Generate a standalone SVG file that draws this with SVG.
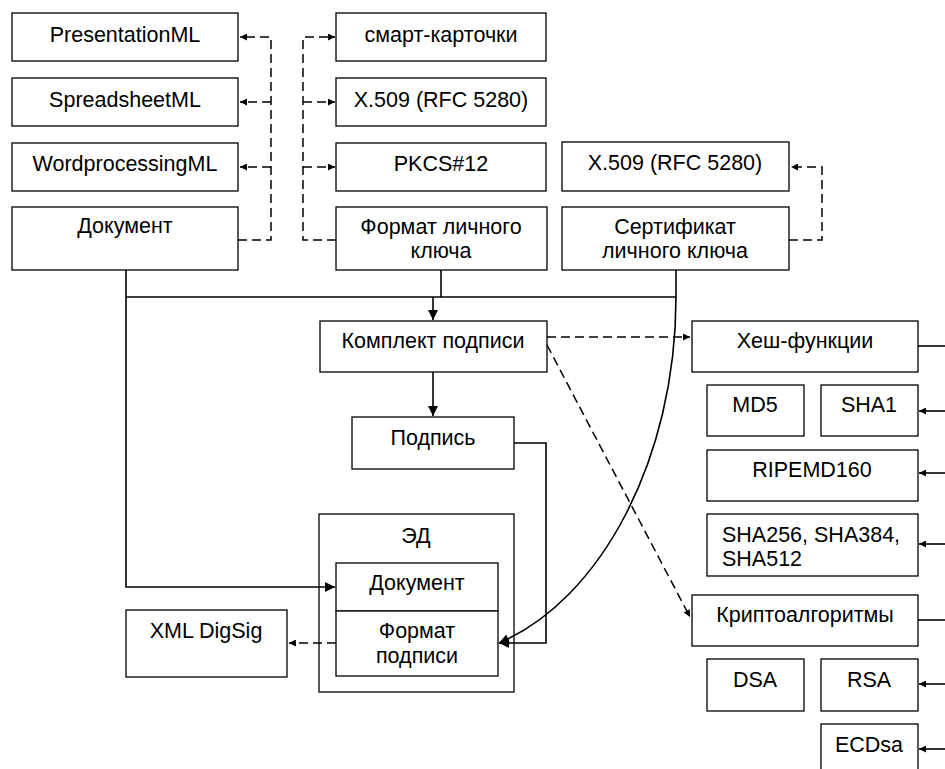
<svg xmlns="http://www.w3.org/2000/svg" width="945" height="769" viewBox="0 0 945 769">
<style>
.b{fill:#fff;stroke:#000;stroke-width:1.3}
.t{font-family:"Liberation Sans",Arial,sans-serif;font-size:21.5px;fill:#000;text-anchor:middle}
.c{fill:none;stroke:#000;stroke-width:1.6}
.d{fill:none;stroke:#000;stroke-width:1.5;stroke-dasharray:9 5}
</style>
<defs>
<marker id="a" viewBox="0 0 10 10" refX="10" refY="5" markerWidth="11" markerHeight="10" orient="auto" markerUnits="userSpaceOnUse"><path d="M0,0L10,5L0,10z"/></marker>
<marker id="s" viewBox="0 0 10 10" refX="10" refY="5" markerWidth="10" markerHeight="7" orient="auto" markerUnits="userSpaceOnUse"><path d="M0,0L10,5L0,10z"/></marker>
</defs>
<rect width="945" height="769" fill="#fff"/>
<g id="presentationml"><rect class="b" x="12" y="13" width="226" height="48"/><text class="t" x="125" y="42">PresentationML</text></g>
<g id="spreadsheetml"><rect class="b" x="12" y="78" width="226" height="48"/><text class="t" x="125" y="107">SpreadsheetML</text></g>
<g id="wordprocessingml"><rect class="b" x="12" y="143" width="226" height="48"/><text class="t" x="125" y="171">WordprocessingML</text></g>
<g id="dokument"><rect class="b" x="12" y="207" width="226" height="63"/><text class="t" x="125" y="233">Документ</text></g>
<g id="smart"><rect class="b" x="336" y="13" width="210" height="48"/><text class="t" x="441" y="42">смарт-карточки</text></g>
<g id="x509a"><rect class="b" x="336" y="78" width="210" height="48"/><text class="t" x="441" y="107">X.509 (RFC 5280)</text></g>
<g id="pkcs12"><rect class="b" x="336" y="143" width="210" height="48"/><text class="t" x="441" y="171">PKCS#12</text></g>
<g id="format-key"><rect class="b" x="336" y="207" width="211" height="63"/><text class="t" x="441" y="234">Формат личного</text><text class="t" x="441" y="258">ключа</text></g>
<g id="x509b"><rect class="b" x="562" y="142" width="227" height="49"/><text class="t" x="675" y="170">X.509 (RFC 5280)</text></g>
<g id="cert"><rect class="b" x="562" y="207" width="227" height="63"/><text class="t" x="675" y="234">Сертификат</text><text class="t" x="675" y="258">личного ключа</text></g>
<g id="komplekt"><rect class="b" x="320" y="321" width="227" height="51"/><text class="t" x="433" y="348">Комплект подписи</text></g>
<g id="podpis"><rect class="b" x="352" y="417" width="162" height="52"/><text class="t" x="433" y="445">Подпись</text></g>
<g id="ed"><rect class="b" x="319" y="514" width="195" height="178"/><text class="t" x="416" y="543">ЭД</text>
<rect class="b" x="336" y="563" width="162" height="48"/><text class="t" x="417" y="590">Документ</text>
<rect class="b" x="336" y="611" width="162" height="65"/><text class="t" x="417" y="638">Формат</text><text class="t" x="417" y="663">подписи</text></g>
<g id="xmldigsig"><rect class="b" x="126" y="610" width="161" height="67"/><text class="t" x="206" y="638">XML DigSig</text></g>
<g id="hash"><rect class="b" x="692" y="321" width="226" height="51"/><text class="t" x="805" y="348">Хеш-функции</text></g>
<g id="md5"><rect class="b" x="707" y="385" width="97" height="51"/><text class="t" x="755" y="412">MD5</text></g>
<g id="sha1"><rect class="b" x="821" y="385" width="97" height="51"/><text class="t" x="869" y="412">SHA1</text></g>
<g id="ripemd"><rect class="b" x="707" y="450" width="211" height="51"/><text class="t" x="812" y="477">RIPEMD160</text></g>
<g id="sha2"><rect class="b" x="707" y="514" width="211" height="62"/><text class="t" x="722" y="542" style="text-anchor:start">SHA256, SHA384,</text><text class="t" x="722" y="566" style="text-anchor:start">SHA512</text></g>
<g id="crypto"><rect class="b" x="692" y="595" width="226" height="51"/><text class="t" x="805" y="622">Криптоалгоритмы</text></g>
<g id="dsa"><rect class="b" x="707" y="659" width="97" height="52"/><text class="t" x="755" y="687">DSA</text></g>
<g id="rsa"><rect class="b" x="821" y="659" width="97" height="52"/><text class="t" x="869" y="687">RSA</text></g>
<g id="ecdsa"><rect class="b" x="821" y="724" width="97" height="60"/><text class="t" x="869" y="752">ECDsa</text></g>
<g id="connectors">
<path class="d" d="M238,240H271V37H240" marker-end="url(#s)"/>
<path class="d" d="M271,102H240" marker-end="url(#s)"/>
<path class="d" d="M271,167H240" marker-end="url(#s)"/>
<path class="d" d="M336,240H303V37H335" marker-end="url(#s)"/>
<path class="d" d="M303,102H335" marker-end="url(#s)"/>
<path class="d" d="M303,167H335" marker-end="url(#s)"/>
<path class="d" d="M789,240H822V167H791" marker-end="url(#s)"/>
<path class="c" d="M126,270V587H335" marker-end="url(#a)"/>
<path class="c" d="M126,297H676"/>
<path class="c" d="M441,270V297"/>
<path class="c" d="M676,270V297"/>
<path class="c" d="M433,297V320" marker-end="url(#a)"/>
<path class="c" d="M433,372V416" marker-end="url(#a)"/>
<path class="c" d="M514,443H546V643H499" marker-end="url(#a)"/>
<path class="c" d="M676,297C676,460 600,600 499,643" marker-end="url(#a)"/>
<path class="d" d="M336,643H289" marker-end="url(#s)"/>
<path class="d" d="M547,337H690" marker-end="url(#s)"/>
<path class="d" d="M547,345L690,617" marker-end="url(#s)"/>
<path class="c" d="M918,346H945"/>
<path class="c" d="M918,620H945"/>
<path class="c" d="M945,411H919" marker-end="url(#s)"/>
<path class="c" d="M945,473H919" marker-end="url(#s)"/>
<path class="c" d="M945,544H919" marker-end="url(#s)"/>
<path class="c" d="M945,684H919" marker-end="url(#s)"/>
<path class="c" d="M945,749H919" marker-end="url(#s)"/>
</g>
</svg>
